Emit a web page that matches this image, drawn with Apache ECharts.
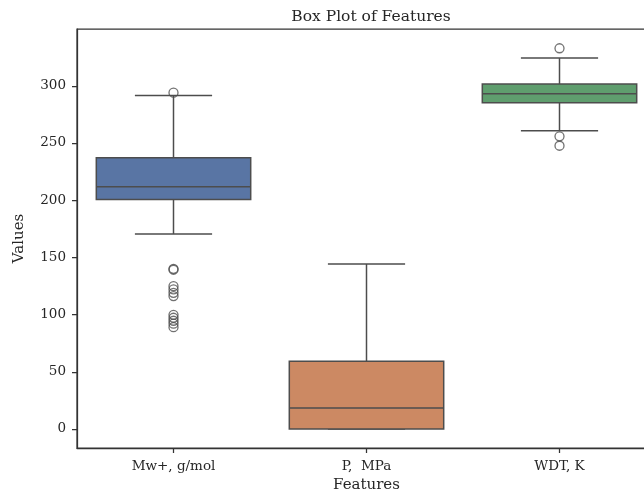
<!DOCTYPE html>
<html><head><meta charset="utf-8">
<script src="https://cdn.jsdelivr.net/npm/echarts@6/dist/echarts.min.js"></script>
<style>html,body{margin:0;padding:0;background:#fff}#c{width:644px;height:493px}</style>
</head><body><div id="c"></div>
<script>
var categories = ["Mw+, g/mol", "P,  MPa", "WDT, K"];
// [min whisker, Q1, median, Q3, max whisker]
var boxStats = [
  [170.5, 200.5, 211.7, 237.0, 291.5],
  [0, 0, 18.4, 59.2, 144.2],
  [260.6, 285.2, 293.0, 301.6, 324.2]
];
var boxColors = ["#5975a4", "#cc8963", "#5f9e6e"];
var outliersMw = [294.0, 140.0, 139.2, 124.8, 122.0, 119.0, 116.2, 99.8, 97.2, 94.6, 92.0, 89.0];
var outliersP = [];
var outliersWDT = [332.8, 255.8, 247.6];
var yTicks = [0, 50, 100, 150, 200, 250, 300];

var F = "DejaVu Serif";
var LINE = "#4d4d4d";
var boxData = boxStats.map(function (s, i) { return [i].concat(s); });
var outData = [];
[outliersMw, outliersP, outliersWDT].forEach(function (arr, i) {
  arr.forEach(function (v) { outData.push([i, v]); });
});

var chart = echarts.init(document.getElementById('c'), null, {renderer: 'canvas'});
chart.setOption({
  animation: false,
  backgroundColor: '#fff',
  title: {text: 'Box Plot of Features', left: 366, top: 4, textAlign: 'center',
    textStyle: {fontFamily: F, fontSize: 15.5, fontWeight: 'normal', color: '#262626'}},
  grid: {left: 77, top: 29, width: 579, height: 419, show: true, borderColor: '#333', borderWidth: 1.25,
    backgroundColor: 'transparent', outerBoundsMode: 'none', containLabel: false},
  xAxis: {
    type: 'category', data: categories, boundaryGap: true,
    name: 'Features', nameLocation: 'middle', nameGap: 30,
    nameTextStyle: {fontFamily: F, fontSize: 15, color: '#262626'},
    axisLine: {show: true, onZero: false, lineStyle: {color: '#333', width: 1.25}},
    axisTick: {show: true, alignWithLabel: true, length: 5, lineStyle: {color: '#333', width: 1.25}},
    axisLabel: {fontFamily: F, fontSize: 13.5, color: '#262626', margin: 11},
    splitLine: {show: false}
  },
  yAxis: {
    type: 'value', min: -16.65, max: 349.65,
    name: 'Values', nameLocation: 'middle', nameGap: 50, nameRotate: 90,
    nameTextStyle: {fontFamily: F, fontSize: 15, color: '#262626'},
    axisLine: {show: true, onZero: false, lineStyle: {color: '#333', width: 1.25}},
    axisTick: {show: true, length: 5, customValues: yTicks, lineStyle: {color: '#333', width: 1.25}},
    axisLabel: {fontFamily: F, fontSize: 13.5, color: '#262626', margin: 11, customValues: yTicks, showMinLabel: true, showMaxLabel: true},
    splitLine: {show: false}
  },
  series: [
    {
      type: 'custom',
      data: boxData,
      encode: {x: 0, y: [1, 2, 3, 4, 5]},
      renderItem: function (params, api) {
        var i = api.value(0);
        var cw = api.size([1, 0])[0];
        var bw = cw * 0.8, hw = bw / 2, cap = bw / 4;
        var pMin = api.coord([i, api.value(1)]);
        var pQ1 = api.coord([i, api.value(2)]);
        var pMed = api.coord([i, api.value(3)]);
        var pQ3 = api.coord([i, api.value(4)]);
        var pMax = api.coord([i, api.value(5)]);
        var cx = pQ1[0];
        var ls = {stroke: LINE, lineWidth: 1.5, fill: null};
        return {type: 'group', children: [
          {type: 'line', shape: {x1: cx, y1: pQ3[1], x2: cx, y2: pMax[1]}, style: ls},
          {type: 'line', shape: {x1: cx, y1: pQ1[1], x2: cx, y2: pMin[1]}, style: ls},
          {type: 'line', shape: {x1: cx - cap, y1: pMax[1], x2: cx + cap, y2: pMax[1]}, style: ls},
          {type: 'line', shape: {x1: cx - cap, y1: pMin[1], x2: cx + cap, y2: pMin[1]}, style: ls},
          {type: 'rect', shape: {x: cx - hw, y: pQ3[1], width: bw, height: pQ1[1] - pQ3[1]},
            style: {fill: boxColors[i], stroke: LINE, lineWidth: 1.5}},
          {type: 'line', shape: {x1: cx - hw, y1: pMed[1], x2: cx + hw, y2: pMed[1]}, style: ls}
        ]};
      },
      z: 2
    },
    {
      type: 'scatter',
      data: outData,
      symbol: 'circle',
      symbolSize: 9,
      itemStyle: {color: 'rgba(0,0,0,0)', borderColor: LINE, borderWidth: 1.3},
      z: 3
    }
  ]
});
</script></body></html>
